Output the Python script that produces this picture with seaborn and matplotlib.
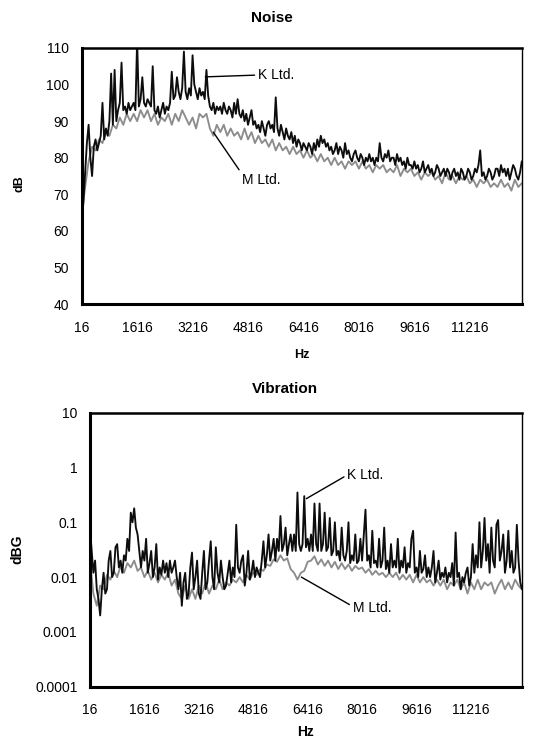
import numpy as np
import pandas as pd
import matplotlib
matplotlib.use("Agg")
import matplotlib.pyplot as plt
import seaborn as sns

# frequency bins (Hz): K Ltd. every 50 Hz, M Ltd. every 100 Hz
hz_k = np.arange(16, 12717, 50)
hz_m = np.arange(16, 12717, 100)

noise_k = [62, 68, 76, 84, 89, 80, 75, 83, 85, 82,
           84, 86, 95, 85, 88, 86, 90, 103, 89, 104,
           90, 93, 95, 106, 93, 94, 92, 95, 93, 94,
           95, 93, 112, 94, 96, 102, 95, 94, 96, 95,
           94, 105, 93, 92, 94, 91, 93, 95, 92, 94,
           93, 95, 103.5, 96, 97, 102, 98, 96, 99, 109,
           98, 96, 99, 97, 108, 100, 98, 96, 99, 97,
           98, 96, 104, 97, 94, 93, 95, 92, 94, 93,
           94, 92, 95, 93, 92, 94, 93, 91, 95, 92,
           96, 92, 91, 93, 90, 92, 89, 91, 93, 89,
           90, 88, 89, 87, 90, 88, 86, 89, 90, 88,
           89, 87, 96.5, 88, 86, 89, 87, 85, 88, 86,
           85, 87, 84, 86, 83, 85, 84, 82, 84, 83,
           82, 84, 83, 81, 84, 82, 85, 83, 86, 84,
           85, 83, 84, 82, 83, 81, 82, 84, 81, 83,
           82, 80, 84, 81, 82, 80, 79, 81, 82, 80,
           79, 81, 80, 78, 80, 79, 81, 79, 80, 78,
           80, 79, 84, 80, 79, 81, 80, 82, 79, 80,
           80, 78, 81, 79, 80, 78, 79, 77, 80, 78,
           78, 77, 79, 77, 78, 76, 77, 79, 76, 77,
           78, 76, 77, 75, 76, 78, 77, 75, 76, 77,
           75, 77, 76, 74, 76, 77, 75, 76, 74, 77,
           76, 74, 75, 77, 76, 74, 75, 77, 76, 78,
           82, 75, 76, 74, 75, 77, 76, 74, 75, 77,
           77, 75, 78, 76, 77, 75, 77, 74, 76, 78,
           77, 75, 74, 76, 79]

noise_m = [64, 72, 79, 83, 82, 85, 84, 87, 86, 89,
           88, 91, 89, 92, 90, 92, 90, 93, 91, 93,
           90, 92, 89, 91, 90, 92, 89, 92, 90, 93,
           91, 89, 91, 88, 92, 91, 92, 88, 86, 89,
           87, 89, 86, 88, 86, 87, 85, 88, 85, 87,
           84, 86, 84, 85, 83, 85, 82, 84, 82, 83,
           81, 83, 81, 82, 80, 82, 80, 81, 79, 81,
           79, 80, 78, 80, 78, 79, 77, 79, 78, 79,
           77, 79, 77, 78, 76, 78, 77, 78, 76, 77,
           76, 78, 75, 77, 76, 77, 75, 76, 74, 76,
           75, 76, 74, 75, 73, 76, 74, 75, 73, 75,
           74, 75, 73, 74, 72, 74, 73, 74, 72, 73,
           72, 74, 72, 73, 71, 74, 72, 73]

vib_k = [0.08, 0.03, 0.012, 0.02, 0.006, 0.004, 0.002, 0.006, 0.012, 0.005,
         0.006, 0.02, 0.03, 0.01, 0.012, 0.035, 0.04, 0.015, 0.02, 0.012,
         0.025, 0.02, 0.05, 0.03, 0.15, 0.1, 0.18, 0.08, 0.06, 0.03,
         0.015, 0.03, 0.02, 0.05, 0.012, 0.018, 0.03, 0.01, 0.015, 0.04,
         0.009, 0.015, 0.011, 0.02, 0.012, 0.018, 0.01, 0.02, 0.012, 0.015,
         0.02, 0.01, 0.006, 0.012, 0.003, 0.008, 0.012, 0.004, 0.005, 0.015,
         0.028, 0.006, 0.01, 0.02, 0.005, 0.004, 0.012, 0.03, 0.006, 0.008,
         0.02, 0.045, 0.01, 0.006, 0.035, 0.012, 0.008, 0.02, 0.01, 0.006,
         0.007, 0.012, 0.02, 0.008, 0.015, 0.01, 0.09, 0.015, 0.012, 0.02,
         0.025, 0.007, 0.012, 0.03, 0.009, 0.012, 0.02, 0.01, 0.015, 0.012,
         0.01, 0.02, 0.045, 0.015, 0.025, 0.06, 0.02, 0.03, 0.05, 0.02,
         0.05, 0.03, 0.13, 0.03, 0.04, 0.08, 0.025, 0.04, 0.06, 0.03,
         0.06, 0.03, 0.35, 0.04, 0.03, 0.04, 0.3, 0.035, 0.05, 0.03,
         0.06, 0.03, 0.22, 0.04, 0.03, 0.22, 0.03, 0.04, 0.15, 0.03,
         0.035, 0.12, 0.025, 0.03, 0.1, 0.025, 0.03, 0.02, 0.08, 0.025,
         0.02, 0.03, 0.1, 0.018, 0.025, 0.02, 0.06, 0.018, 0.02, 0.05,
         0.02, 0.06, 0.17, 0.02, 0.025, 0.015, 0.07, 0.018, 0.02, 0.015,
         0.05, 0.015, 0.02, 0.08, 0.014, 0.02, 0.012, 0.04, 0.015, 0.02,
         0.015, 0.05, 0.012, 0.02, 0.015, 0.035, 0.012, 0.018, 0.015, 0.05,
         0.07, 0.012, 0.015, 0.01, 0.03, 0.012, 0.014, 0.025, 0.01, 0.015,
         0.01, 0.015, 0.03, 0.008, 0.012, 0.02, 0.009, 0.012, 0.01, 0.015,
         0.008, 0.012, 0.01, 0.018, 0.007, 0.065, 0.01, 0.012, 0.006, 0.01,
         0.008, 0.012, 0.015, 0.007, 0.01, 0.04, 0.012, 0.025, 0.015, 0.1,
         0.015, 0.03, 0.12, 0.02, 0.04, 0.012, 0.08, 0.02, 0.015, 0.09,
         0.11, 0.02, 0.03, 0.06, 0.012, 0.02, 0.07, 0.015, 0.03, 0.012,
         0.015, 0.09, 0.02, 0.008, 0.006]

vib_m = [0.02, 0.005, 0.003, 0.007, 0.006, 0.011, 0.009, 0.013, 0.01, 0.016,
         0.012, 0.018, 0.015, 0.02, 0.013, 0.015, 0.01, 0.013, 0.009, 0.012,
         0.008, 0.011, 0.009, 0.012, 0.007, 0.009, 0.005, 0.004, 0.007, 0.004,
         0.006, 0.004, 0.007, 0.005, 0.008, 0.005, 0.007, 0.006, 0.009, 0.006,
         0.008, 0.007, 0.009, 0.008, 0.01, 0.008, 0.011, 0.009, 0.012, 0.011,
         0.014, 0.013, 0.017, 0.016, 0.021, 0.019, 0.025, 0.02, 0.022, 0.014,
         0.012, 0.009, 0.012, 0.013, 0.019, 0.02, 0.024, 0.017, 0.021, 0.016,
         0.02, 0.015, 0.019, 0.014, 0.018, 0.014, 0.017, 0.013, 0.016, 0.014,
         0.015, 0.012, 0.014, 0.011, 0.013, 0.011, 0.012, 0.01, 0.012, 0.01,
         0.012, 0.009, 0.011, 0.009, 0.011, 0.008, 0.011, 0.008, 0.01, 0.008,
         0.009, 0.007, 0.009, 0.007, 0.009, 0.006, 0.008, 0.007, 0.009, 0.006,
         0.008, 0.005, 0.008, 0.006, 0.009, 0.006, 0.008, 0.007, 0.008, 0.005,
         0.007, 0.009, 0.006, 0.008, 0.006, 0.009, 0.007, 0.006]

xticks = [16, 1616, 3216, 4816, 6416, 8016, 9616, 11216]
noise_yticks = [40, 50, 60, 70, 80, 90, 100, 110]
vib_yticks = [0.0001, 0.001, 0.01, 0.1, 1, 10]
vib_ylabels = ["0.0001", "0.001", "0.01", "0.1", "1", "10"]

sns.set_style("white")
plt.rcParams["font.family"] = ["Liberation Sans", "DejaVu Sans"]
plt.rcParams["text.color"] = "black"
plt.rcParams["axes.labelcolor"] = "black"
plt.rcParams["xtick.color"] = "black"
plt.rcParams["ytick.color"] = "black"

fig = plt.figure(figsize=(5.42, 7.38), dpi=100)
ax1 = fig.add_axes([0.1507, 0.588, 0.812, 0.347])
ax2 = fig.add_axes([0.166, 0.0695, 0.797, 0.3713])

def frame(m_vals, k_vals):
    return pd.DataFrame({
        "Hz": np.concatenate([hz_m, hz_k]),
        "val": list(m_vals) + list(k_vals),
        "series": ["M Ltd."] * len(hz_m) + ["K Ltd."] * len(hz_k)})

pal = {"M Ltd.": "#8c8c8c", "K Ltd.": "#0d0d0d"}
order = ["M Ltd.", "K Ltd."]

sns.lineplot(data=frame(noise_m, noise_k), x="Hz", y="val", hue="series",
             palette=pal, hue_order=order, linewidth=1.35, legend=False, ax=ax1)
sns.lineplot(data=frame(vib_m, vib_k), x="Hz", y="val", hue="series",
             palette=pal, hue_order=order, linewidth=1.35, legend=False, ax=ax2)

for ax in (ax1, ax2):
    ax.set_xlim(16, 12716)
    ax.set_xticks(xticks)
    ax.set_xticklabels([str(t) for t in xticks])
    ax.tick_params(axis="both", direction="inout", length=6, width=1.2,
                   colors="black", labelsize=10, pad=6)
    ax.tick_params(axis="x", pad=9)
    ax.spines["left"].set_linewidth(2.2)
    ax.spines["bottom"].set_linewidth(2.2)
    ax.spines["top"].set_linewidth(1.8)
    ax.spines["right"].set_linewidth(1.0)
    for s in ax.spines.values():
        s.set_color("black")
    ax.grid(False)

ax1.set_ylim(40, 110)
ax1.set_yticks(noise_yticks)
ax1.set_xlabel("Hz", fontweight="bold", fontsize=9)
ax1.set_ylabel("dB", fontweight="bold", fontsize=9)
ax1.xaxis.set_label_coords(0.5, -0.176)
ax1.yaxis.set_label_coords(-0.127, 0.47)

ax2.set_yscale("log")
ax2.set_ylim(0.0001, 10)
ax2.set_yticks(vib_yticks)
ax2.set_yticklabels(vib_ylabels)
ax2.yaxis.set_minor_locator(matplotlib.ticker.NullLocator())
ax2.set_xlabel("Hz", fontweight="bold", fontsize=10)
ax2.set_ylabel("dBG", fontweight="bold", fontsize=10)
ax2.xaxis.set_label_coords(0.5, -0.14)
ax2.yaxis.set_label_coords(-0.153, 0.5)

fig.text(272 / 542, 1 - 18 / 738, "Noise", fontweight="bold", fontsize=11,
         ha="center", va="center", color="black")
fig.text(285 / 542, 1 - 389 / 738, "Vibration", fontweight="bold", fontsize=11,
         ha="center", va="center", color="black")

lineprops = dict(arrowstyle="-", color="black", lw=1.0, shrinkA=0, shrinkB=0)
ax1.annotate("K Ltd.", xy=(3582, 102.1), xytext=(5100, 102.6), fontsize=10,
             ha="left", va="center", color="black",
             arrowprops=dict(relpos=(0, 0.5), **lineprops))
ax1.annotate("M Ltd.", xy=(3813, 87.0), xytext=(4650, 73.9), fontsize=10,
             ha="left", va="center", color="black",
             arrowprops=dict(relpos=(0, 0.9), **lineprops))
ax2.annotate("K Ltd.", xy=(6378, 0.27), xytext=(7580, 0.73), fontsize=10,
             ha="left", va="center", color="black",
             arrowprops=dict(relpos=(0, 0.5), **lineprops))
ax2.annotate("M Ltd.", xy=(6232, 0.01), xytext=(7740, 0.00275), fontsize=10,
             ha="left", va="center", color="black",
             arrowprops=dict(relpos=(0, 0.6), **lineprops))

fig.savefig("out.png", dpi=100)
